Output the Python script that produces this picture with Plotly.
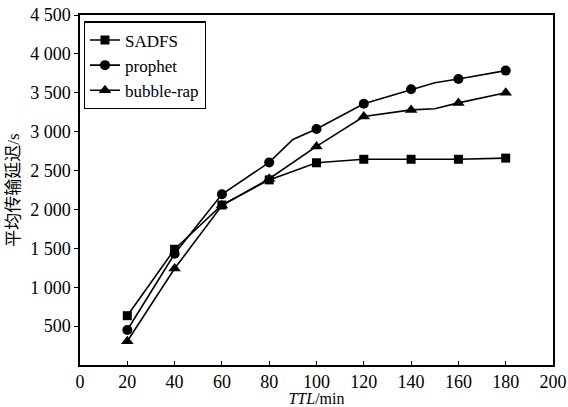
import plotly.graph_objects as go

# ---- data ----
sadfs_x = [20, 40, 60, 80, 100, 120, 140, 160, 180]
sadfs_y = [634, 1488, 2057, 2380, 2600, 2645, 2645, 2645, 2660]
sadfs_mark = [1, 1, 1, 1, 1, 1, 1, 1, 1]

prophet_x = [20, 40, 60, 80, 90, 100, 120, 140, 150, 160, 180]
prophet_y = [450, 1430, 2195, 2605, 2900, 3035, 3360, 3545, 3630, 3677, 3785]
prophet_mark = [1, 1, 1, 1, 0, 1, 1, 1, 0, 1, 1]

bubble_x = [20, 40, 60, 80, 100, 120, 140, 150, 160, 180]
bubble_y = [305, 1240, 2050, 2395, 2810, 3195, 3280, 3295, 3370, 3500]
bubble_mark = [1, 1, 1, 1, 1, 1, 1, 0, 1, 1]

x_ticks = [0, 20, 40, 60, 80, 100, 120, 140, 160, 180, 200]
y_ticks = [500, 1000, 1500, 2000, 2500, 3000, 3500, 4000, 4500]
y_ticktext = ["500", "1 000", "1 500", "2 000", "2 500", "3 000", "3 500", "4 000", "4 500"]

FONT = "Liberation Serif"
CJK_FONT = "Liberation Serif, Noto Sans CJK SC"


def colors(mask):
    return ["black" if m else "rgba(0,0,0,0)" for m in mask]


fig = go.Figure()
series = [
    ("SADFS", sadfs_x, sadfs_y, sadfs_mark, "square", 9),
    ("prophet", prophet_x, prophet_y, prophet_mark, "circle", 10),
    ("bubble-rap", bubble_x, bubble_y, bubble_mark, "triangle-up", 11),
]
for name, xs, ys, mk, sym, sz in series:
    fig.add_trace(go.Scatter(
        x=xs, y=ys, name=name, mode="lines+markers",
        line=dict(color="black", width=1.6),
        marker=dict(symbol=sym, size=sz, color=colors(mk), line=dict(width=0)),
    ))

fig.update_layout(
    width=568, height=407,
    margin=dict(l=80, r=15, t=15, b=42, autoexpand=False),
    paper_bgcolor="white", plot_bgcolor="white",
    font=dict(family=FONT, size=18, color="black"),
    showlegend=True,
    legend=dict(
        x=0.008, y=0.982, xanchor="left", yanchor="top",
        bgcolor="white", bordercolor="black", borderwidth=1.2,
        font=dict(family=FONT, size=17, color="black"),
        tracegroupgap=0, itemwidth=30,
    ),
)
fig.update_xaxes(
    range=[0, 200], tickvals=x_ticks, ticks="inside", ticklen=4, tickwidth=1.2,
    tickcolor="black", showline=True, linecolor="black", linewidth=1.5, mirror=True,
    showgrid=False, zeroline=False, automargin=False,
    tickfont=dict(family=FONT, size=18),
    title=dict(text="<i>TTL</i>/min", font=dict(family=FONT, size=16), standoff=5),
)
fig.update_yaxes(
    range=[0, 4500], tickvals=y_ticks, ticktext=y_ticktext, ticks="outside", ticklen=4,
    tickwidth=1.2, tickcolor="black", showline=True, linecolor="black", linewidth=1.5,
    mirror=True, showgrid=False, zeroline=False, automargin=False,
    tickfont=dict(family=FONT, size=18),
    title=dict(text="平均传输延迟/s", font=dict(family=CJK_FONT, size=17), standoff=6),
)

fig.write_html(
    "out.html",
    config={"displayModeBar": False},
    post_script="document.body.style.margin='0';document.body.style.overflow='hidden';",
)
